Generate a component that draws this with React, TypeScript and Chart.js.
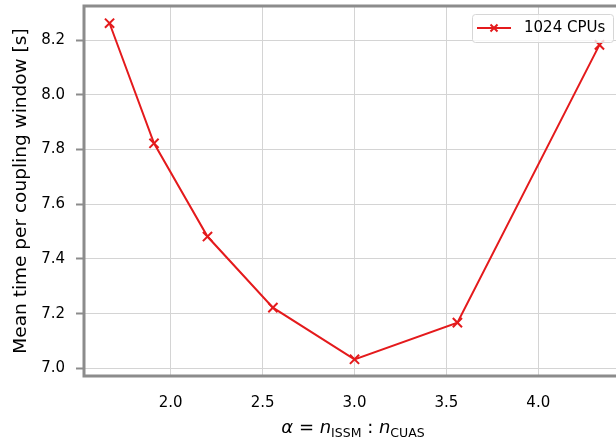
import React, { useEffect, useRef } from "react";
import { Chart, registerables } from "chart.js";

Chart.register(...registerables);

const alphaValues = [1.667, 1.909, 2.2, 2.556, 3.0, 3.56, 4.333];
const meanTimes = [8.262, 7.823, 7.482, 7.222, 7.033, 7.167, 8.183];
const seriesLabel = "1024 CPUs";
const yTitle = "Mean time per coupling window [s]";

const RED = "#e41a1c";
const SPINE = "#8c8c8c";
const FONT = "'DejaVu Sans', sans-serif";

const decorPlugin = {
  id: "decor",
  afterDraw(chart: any) {
    const ctx = chart.ctx as CanvasRenderingContext2D;
    const { left, top, right, bottom } = chart.chartArea;
    ctx.save();
    // spines
    ctx.strokeStyle = SPINE;
    ctx.lineWidth = 3;
    ctx.beginPath();
    ctx.moveTo(left, bottom);
    ctx.lineTo(left, top);
    ctx.lineTo(right + 5, top);
    ctx.moveTo(left - 1.5, bottom);
    ctx.lineTo(right + 5, bottom);
    ctx.stroke();

    // legend
    const lx = 472.5, ly = 14.5, lw = 141, lh = 28;
    ctx.fillStyle = "rgba(255,255,255,0.8)";
    ctx.strokeStyle = "#d6d6d6";
    ctx.lineWidth = 1;
    ctx.beginPath();
    (ctx as any).roundRect(lx, ly, lw, lh, 3);
    ctx.fill();
    ctx.stroke();
    const my = 28;
    ctx.strokeStyle = RED;
    ctx.lineWidth = 2;
    ctx.beginPath();
    ctx.moveTo(477, my);
    ctx.lineTo(511, my);
    ctx.stroke();
    const cx = 494, r = 3.5;
    ctx.beginPath();
    ctx.moveTo(cx - r, my - r);
    ctx.lineTo(cx + r, my + r);
    ctx.moveTo(cx - r, my + r);
    ctx.lineTo(cx + r, my - r);
    ctx.stroke();
    ctx.fillStyle = "#000";
    ctx.font = `15px ${FONT}`;
    ctx.textAlign = "left";
    ctx.textBaseline = "middle";
    ctx.fillText(seriesLabel, 524, my);

    // y title
    ctx.save();
    ctx.translate(21, (top + bottom) / 2);
    ctx.rotate(-Math.PI / 2);
    ctx.font = `18.5px ${FONT}`;
    ctx.textAlign = "center";
    ctx.textBaseline = "middle";
    ctx.fillStyle = "#000";
    ctx.fillText(yTitle, 0, 0);
    ctx.restore();

    // x title with subscripts
    const parts: { t: string; f: string; dy: number }[] = [
      { t: "α", f: `italic 18px ${FONT}`, dy: 0 },
      { t: " = ", f: `18px ${FONT}`, dy: 0 },
      { t: "n", f: `italic 18px ${FONT}`, dy: 0 },
      { t: "ISSM", f: `12.5px ${FONT}`, dy: 4 },
      { t: " : ", f: `18px ${FONT}`, dy: 0 },
      { t: "n", f: `italic 18px ${FONT}`, dy: 0 },
      { t: "CUAS", f: `12.5px ${FONT}`, dy: 4 },
    ];
    let total = 0;
    for (const p of parts) {
      ctx.font = p.f;
      total += ctx.measureText(p.t).width;
    }
    let x = 353 - total / 2;
    const baseY = 433;
    ctx.textAlign = "left";
    ctx.textBaseline = "alphabetic";
    for (const p of parts) {
      ctx.font = p.f;
      ctx.fillText(p.t, x, baseY + p.dy);
      x += ctx.measureText(p.t).width;
    }
    ctx.restore();
  },
};

export default function App() {
  const ref = useRef<HTMLCanvasElement | null>(null);
  useEffect(() => {
    if (!ref.current) return;
    const chart = new Chart(ref.current, {
      type: "line",
      data: {
        datasets: [
          {
            label: seriesLabel,
            data: alphaValues.map((x, i) => ({ x, y: meanTimes[i] })),
            borderColor: RED,
            backgroundColor: RED,
            borderWidth: 2,
            pointStyle: "crossRot",
            pointRadius: 6.5,
            pointBorderWidth: 2,
            pointBorderColor: RED,
            tension: 0,
            clip: false as any,
          },
        ],
      },
      options: {
        animation: false,
        responsive: true,
        maintainAspectRatio: false,
        layout: { autoPadding: false, padding: { top: 6, right: 0, left: 0, bottom: 0 } },
        plugins: {
          legend: { display: false },
          tooltip: { enabled: false },
        },
        scales: {
          x: {
            type: "linear",
            min: 1.528,
            max: 4.423,
            border: { display: false },
            grid: { color: "#d4d4d4", lineWidth: 1, drawTicks: false },
            ticks: {
              stepSize: 0.5,
              includeBounds: false,
              padding: 18,
              color: "#000",
              font: { family: FONT, size: 15 },
              callback: (v: any) => Number(v).toFixed(1),
            },
            afterFit: (s: any) => {
              s.height = 441 - 376;
              s.paddingLeft = 0;
              s.paddingRight = 0;
            },
          },
          y: {
            type: "linear",
            min: 6.972,
            max: 8.325,
            border: { display: false },
            grid: {
              color: "#d4d4d4",
              lineWidth: 1,
              drawTicks: true,
              tickLength: 8,
              tickColor: SPINE,
              tickWidth: 2,
            },
            ticks: {
              stepSize: 0.2,
              includeBounds: false,
              padding: 11,
              color: "#000",
              font: { family: FONT, size: 15 },
              callback: (v: any) => Number(v).toFixed(1),
            },
            afterFit: (s: any) => {
              s.width = 84;
              s.paddingTop = 0;
              s.paddingBottom = 0;
            },
          },
        },
      },
      plugins: [decorPlugin],
    });
    return () => chart.destroy();
  }, []);
  return (
    <div style={{ position: "fixed", left: 0, top: 0, width: 616, height: 441, background: "#fff" }}>
      <canvas ref={ref} />
    </div>
  );
}
